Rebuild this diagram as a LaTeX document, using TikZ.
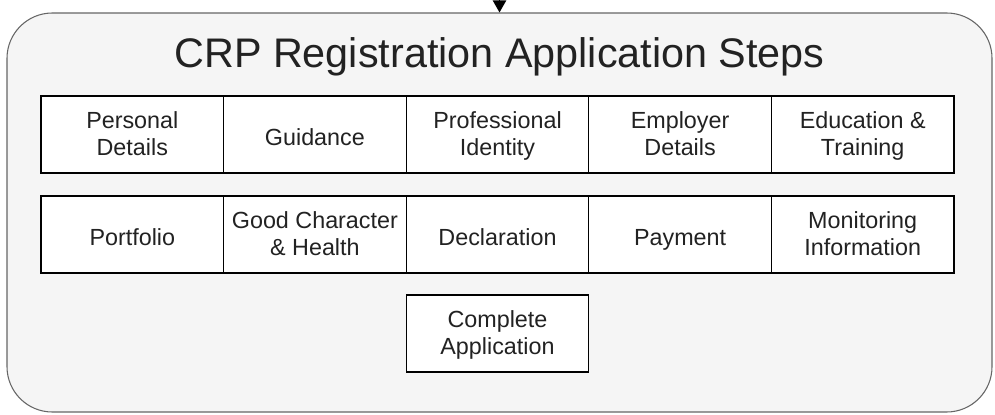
\documentclass[tikz,border=0pt]{standalone}
\usepackage{fontspec}
\setmainfont{Liberation Sans}
\usetikzlibrary{arrows.meta}

\definecolor{framefill}{HTML}{F5F5F5}
\definecolor{framedraw}{HTML}{666666}
\definecolor{inktext}{HTML}{222222}

\newcommand{\boxstrut}{\rule{0pt}{18pt}}

\tikzset{
  frame/.style={draw=framedraw, fill=framefill, line width=0.8pt,
    rounded corners=34pt, inner sep=0pt,
    minimum width=738.75pt, minimum height=299.25pt},
  stepbox/.style={draw=black, fill=white, line width=1pt, inner sep=0pt,
    minimum width=136.95pt, minimum height=57.75pt, align=center,
    text=inktext, font=\fontsize{17.5}{20}\selectfont,
    execute at begin node=\boxstrut, text depth=1pt},
  heading/.style={text=inktext, font=\fontsize{31}{36}\selectfont}
}

\begin{document}
\begin{tikzpicture}[x=0.75pt,y=-0.75pt]
\useasboundingbox (0,0) rectangle (995,414);

\node[frame] (steps) at (499.5,212.5) {};
\coordinate (entry) at (499.5,0);
\draw[black, line width=0.8pt, -{Triangle[width=10pt,length=9pt]}] (entry) -- (steps.north);

\node[heading] (title) at (499.5,57) {CRP Registration Application Steps};

% first row
\node[stepbox] (personal) at (132.3,134.5) {Personal\\Details};
\node[stepbox] (guidance) at (314.9,134.5) {Guidance};
\node[stepbox] (identity) at (497.5,134.5) {Professional\\Identity};
\node[stepbox] (employer) at (680.1,134.5) {Employer\\Details};
\node[stepbox] (education) at (862.7,134.5) {Education \&\\Training};

% second row
\node[stepbox] (portfolio) at (132.3,234.5) {Portfolio};
\node[stepbox] (character) at (314.9,234.5) {Good Character\\\& Health};
\node[stepbox] (declaration) at (497.5,234.5) {Declaration};
\node[stepbox] (payment) at (680.1,234.5) {Payment};
\node[stepbox] (monitoring) at (862.7,234.5) {Monitoring\\Information};

% last step
\node[stepbox] (complete) at (497.5,333.5) {Complete\\Application};
\end{tikzpicture}
\end{document}
